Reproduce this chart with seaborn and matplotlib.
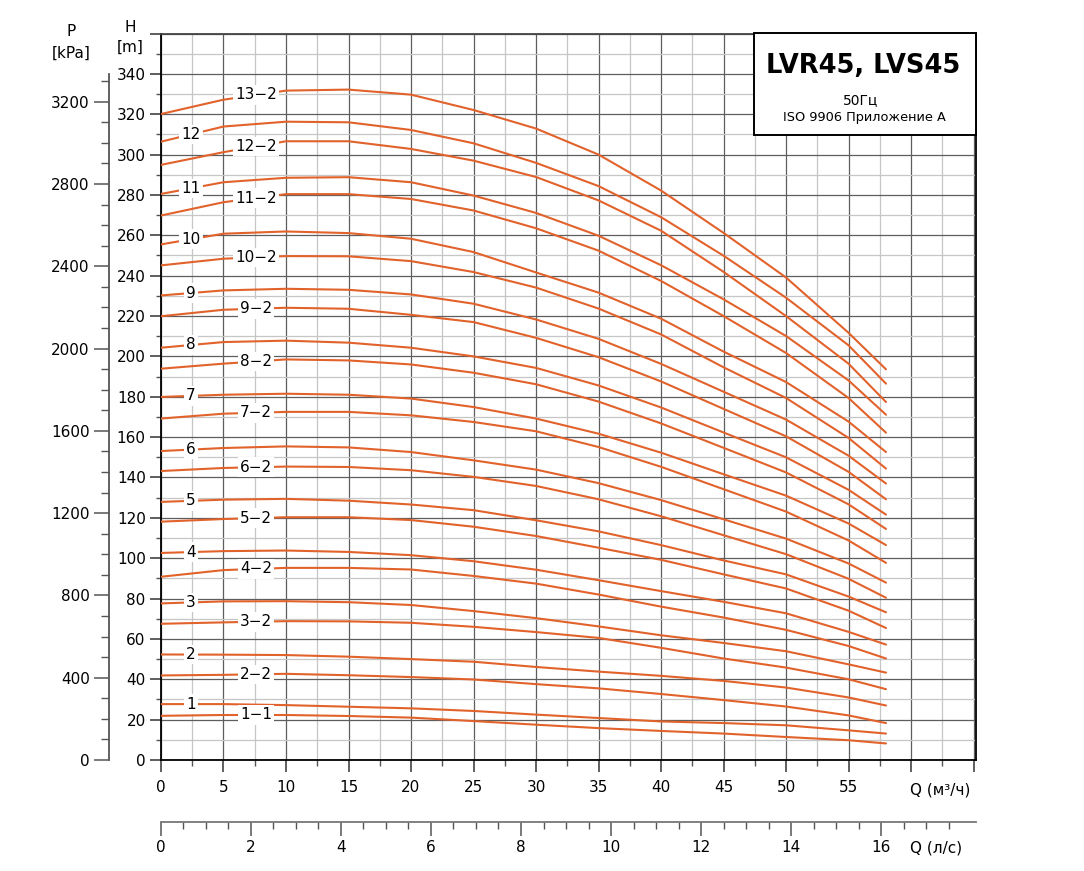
import matplotlib
matplotlib.use('Agg')
import matplotlib.pyplot as plt
import numpy as np
import pandas as pd
import seaborn as sns
from matplotlib.patches import Rectangle
from matplotlib.ticker import MultipleLocator, FixedLocator, FuncFormatter

sns.set_style('white')
plt.rcParams['font.family'] = ['DejaVu Sans']
plt.rcParams['text.color'] = 'black'

# Q points (m3/h) at which the curves were read
q_points = [0, 5, 10, 15, 20, 25, 30, 35, 40, 45, 50, 55, 58]

# H (m) per curve
h_13_2 = [320.1, 327.2, 331.7, 332.2, 329.7, 322.1, 312.9, 300.0, 282.2, 261.2, 239.1, 211.7, 193.6]
h_12 = [306.4, 313.9, 316.3, 316.0, 312.2, 305.6, 295.9, 284.4, 269.0, 249.9, 229.1, 205.5, 186.5]
h_12_2 = [294.9, 301.2, 306.6, 306.6, 302.8, 297.0, 288.9, 277.3, 262.3, 241.9, 220.0, 196.4, 177.4]
h_11 = [280.5, 286.3, 288.5, 288.8, 286.3, 279.7, 271.1, 259.8, 245.2, 228.3, 210.1, 188.1, 171.1]
h_11_2 = [269.8, 276.4, 280.4, 280.4, 278.0, 272.3, 263.5, 252.4, 237.4, 220.0, 201.7, 179.4, 162.2]
h_10 = [255.5, 260.8, 261.9, 261.1, 258.3, 251.7, 241.6, 231.6, 218.7, 202.4, 187.3, 167.7, 152.6]
h_10_2 = [245.1, 248.4, 249.7, 249.6, 247.2, 241.8, 234.1, 223.7, 210.9, 194.6, 179.4, 159.6, 144.4]
h_9 = [230.2, 232.7, 233.5, 233.0, 230.7, 226.1, 218.3, 208.7, 196.3, 182.5, 168.7, 150.8, 137.0]
h_9_2 = [219.9, 223.1, 224.1, 223.6, 220.6, 217.0, 209.2, 199.6, 187.6, 174.0, 160.4, 142.8, 129.2]
h_8 = [204.3, 207.1, 207.8, 206.8, 204.3, 200.0, 194.3, 185.6, 174.7, 162.3, 150.0, 133.9, 121.6]
h_8_2 = [193.9, 196.4, 198.5, 198.0, 196.0, 191.9, 186.2, 177.6, 166.8, 154.7, 142.5, 126.7, 114.5]
h_7 = [179.9, 181.0, 181.5, 181.0, 179.1, 174.9, 169.2, 161.7, 152.3, 141.6, 131.0, 117.2, 106.5]
h_7_2 = [169.2, 171.6, 172.5, 172.5, 170.8, 167.5, 162.9, 155.1, 145.3, 134.2, 123.1, 108.8, 97.7]
h_6 = [153.1, 154.6, 155.4, 154.9, 152.6, 148.5, 143.9, 137.2, 128.8, 119.3, 109.7, 97.4, 87.9]
h_6_2 = [143.2, 144.7, 145.4, 145.2, 143.6, 140.3, 135.8, 129.2, 120.8, 111.4, 102.0, 89.8, 80.4]
h_5 = [127.9, 129.0, 129.4, 128.5, 126.6, 123.8, 118.8, 113.3, 106.5, 98.9, 92.0, 81.0, 73.2]
h_5_2 = [118.1, 119.4, 120.3, 120.3, 118.9, 115.6, 111.0, 105.2, 99.2, 92.0, 85.0, 74.0, 65.4]
h_4 = [102.6, 103.5, 103.8, 103.1, 101.5, 98.5, 94.3, 89.1, 83.7, 78.4, 72.7, 63.5, 57.2]
h_4_2 = [90.8, 94.1, 95.2, 95.2, 94.4, 91.2, 87.4, 82.0, 76.0, 70.6, 64.5, 56.5, 50.3]
h_3 = [77.6, 78.6, 78.7, 78.2, 76.8, 73.8, 70.3, 66.2, 61.8, 58.0, 53.9, 47.4, 43.3]
h_3_2 = [67.5, 68.2, 68.8, 68.7, 68.0, 66.0, 63.4, 60.5, 55.6, 50.3, 45.8, 40.0, 35.1]
h_2 = [52.3, 52.2, 52.0, 51.2, 50.0, 48.7, 46.1, 43.8, 41.7, 39.2, 35.9, 31.0, 27.0]
h_2_2 = [41.9, 42.2, 42.7, 42.0, 41.1, 39.9, 37.6, 35.5, 32.7, 29.7, 26.5, 22.1, 18.3]
h_1 = [27.7, 27.7, 27.2, 26.4, 25.6, 24.3, 22.5, 20.8, 19.1, 18.3, 17.2, 14.7, 13.1]
h_1_1 = [21.9, 22.3, 22.3, 21.8, 21.0, 19.3, 17.5, 15.8, 14.4, 13.1, 11.4, 9.8, 8.2]

curve_names = ['13−2', '12', '12−2', '11', '11−2', '10', '10−2', '9', '9−2',
               '8', '8−2', '7', '7−2', '6', '6−2', '5', '5−2', '4', '4−2',
               '3', '3−2', '2', '2−2', '1', '1−1']
curve_values = [h_13_2, h_12, h_12_2, h_11, h_11_2, h_10, h_10_2, h_9, h_9_2,
                h_8, h_8_2, h_7, h_7_2, h_6, h_6_2, h_5, h_5_2, h_4, h_4_2,
                h_3, h_3_2, h_2, h_2_2, h_1, h_1_1]

h_ticks = list(range(0, 361, 20))
p_ticks = list(range(0, 3201, 400))
q_ticks = list(range(0, 61, 5))
qls_ticks = list(range(0, 17, 2))

df = pd.concat([pd.DataFrame({'Q': q_points, 'H': v, 'curve': n})
                for n, v in zip(curve_names, curve_values)], ignore_index=True)

W, H = 1084, 871
fig = plt.figure(figsize=(W / 100, H / 100), dpi=100)
ax = fig.add_axes([161 / W, 1 - 760 / H, (976 - 161) / W, (760 - 33.5) / H])

curve_color = '#e2622c'
sns.lineplot(data=df, x='Q', y='H', units='curve', estimator=None, sort=False,
             color=curve_color, linewidth=1.5, legend=False, ax=ax, zorder=3)

ax.set_xlim(0, 65.2)
ax.set_ylim(0, 360)
ax.set_xlabel('')
ax.set_ylabel('')

# grid
ax.xaxis.set_major_locator(FixedLocator(q_ticks + [65]))
ax.xaxis.set_minor_locator(MultipleLocator(2.5))
ax.yaxis.set_major_locator(FixedLocator(h_ticks))
ax.yaxis.set_minor_locator(MultipleLocator(10))
ax.grid(which='major', color='#5e5e5e', linewidth=0.9, zorder=0)
ax.grid(which='minor', color='#c6c6c6', linewidth=0.9, zorder=0)
ax.set_axisbelow(True)

ax.xaxis.set_major_formatter(FuncFormatter(lambda v, p: f'{v:.0f}' if v <= 55 else ''))
ax.yaxis.set_major_formatter(FuncFormatter(lambda v, p: f'{v:.0f}' if v <= 340 else ''))
ax.tick_params(axis='x', which='major', direction='out', length=8.5, width=1.1,
               color='#333333', labelcolor='black', labelsize=11, pad=6, bottom=True)
ax.tick_params(axis='x', which='minor', direction='out', length=4.3, width=1.0,
               color='#555555', bottom=True)
ax.tick_params(axis='y', which='major', direction='out', length=8, width=1.1,
               color='#333333', labelcolor='black', labelsize=11, pad=3, left=True)
ax.tick_params(axis='y', which='minor', direction='out', length=3.6, width=1.0,
               color='#555555', left=True)
for s in ax.spines.values():
    s.set_visible(True)
    s.set_color('black')
    s.set_linewidth(1.3)
ax.spines['top'].set_color('#444444')

# curve labels
for name, vals in zip(curve_names, curve_values):
    q_lab = 7.6 if '−' in name else 2.4
    h_lab = np.interp(q_lab, q_points, vals)
    ax.text(q_lab, h_lab, name, fontsize=11, ha='center', va='center', zorder=4,
            color='black', bbox=dict(facecolor='white', edgecolor='none', pad=1.6))

# title box
ax.add_patch(Rectangle((47.45, 309.7), 65.2 - 47.45, 360 - 309.7, facecolor='white',
                       edgecolor='black', linewidth=1.4, zorder=5, clip_on=False))
ax.text(56.2, 344.0, 'LVR45, LVS45', fontsize=18.5, fontweight='bold', ha='center',
        va='center', zorder=6, color='black')
ax.text(56.0, 327.2, '50Гц', fontsize=10, ha='center', va='center', zorder=6, color='black')
ax.text(56.3, 318.6, 'ISO 9906 Приложение А', fontsize=9.3, ha='center', va='center',
        zorder=6, color='black')

# pressure axis
p_ax = ax.secondary_yaxis((109 - 161) / (976 - 161),
                          functions=(lambda h: h * 9.81, lambda p: p / 9.81))
p_ax.yaxis.set_major_locator(FixedLocator(p_ticks))
p_ax.yaxis.set_minor_locator(FixedLocator(list(range(0, 3301, 100))))
p_ax.tick_params(which='major', direction='out', length=10.8, width=1.1,
                 color='#555555', labelcolor='black', labelsize=11, pad=3)
p_ax.tick_params(which='minor', direction='out', length=5.8, width=1.0, color='#555555')
p_ax.spines['left'].set_bounds(0, 3335)
p_ax.spines['left'].set_color('#555555')
p_ax.spines['left'].set_linewidth(1.3)

# flow in l/s
q_ax = ax.secondary_xaxis(-(822 - 760) / (760 - 33.5),
                          functions=(lambda q: q / 3.6, lambda l: l * 3.6))
q_ax.xaxis.set_major_locator(FixedLocator(qls_ticks))
q_ax.xaxis.set_minor_locator(FixedLocator(list(np.arange(0, 17.6, 0.5))))
q_ax.tick_params(which='major', direction='out', length=10, width=1.1,
                 color='#555555', labelcolor='black', labelsize=11, pad=3)
q_ax.tick_params(which='minor', direction='out', length=5, width=1.0, color='#555555')
q_ax.spines['bottom'].set_color('#777777')
q_ax.spines['bottom'].set_linewidth(1.3)

# axis titles
fig.text(130 / W, 1 - 28 / H, 'H', fontsize=11, ha='center', va='center')
fig.text(130 / W, 1 - 47 / H, '[m]', fontsize=11, ha='center', va='center')
fig.text(71 / W, 1 - 32 / H, 'P', fontsize=11, ha='center', va='center')
fig.text(71 / W, 1 - 53 / H, '[kPa]', fontsize=11, ha='center', va='center')
fig.text(910 / W, 1 - 790 / H, 'Q (м³/ч)', fontsize=11, ha='left', va='center')
fig.text(910 / W, 1 - 848 / H, 'Q (л/с)', fontsize=11, ha='left', va='center')

fig.savefig('out.png', dpi=100, facecolor='white')
